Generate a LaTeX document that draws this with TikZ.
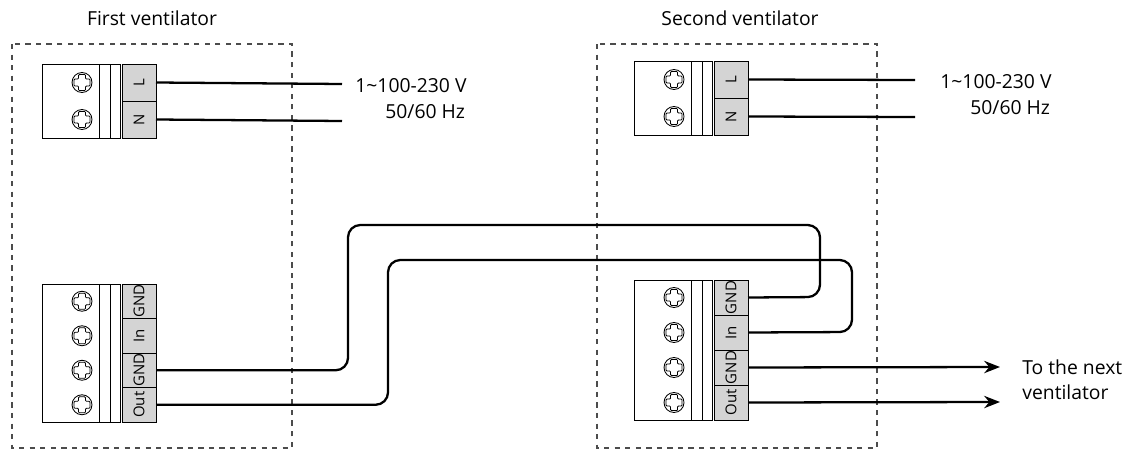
\documentclass[tikz,border=0pt]{standalone}
\usepackage{fontspec}
\setmainfont{Open Sans}
\usetikzlibrary{arrows.meta}
\definecolor{cellgrey}{gray}{0.83}

\tikzset{
  box/.style = {draw = black!70, dashed, line width = 0.6pt},
  wire/.style = {draw, line width = 1.3pt, rounded corners = 7pt},
  feed/.style = {wire, -{Stealth[length = 9pt, width = 7pt]}},
  cell/.style = {draw, fill = cellgrey, line width = 0.5pt},
  lbl/.style = {font = \fontsize{11}{14}\selectfont, inner sep = 0pt}
}

% terminal block: #1 name, #2 x, #3 y (top), #4 row height, #5 rows, #6 labels
\newcommand\tblock[6]{
  \foreach \lab [count = \k] in {#6} {
    \pgfmathsetmacro\ya{#3 + (\k - 1) * #4}
    \pgfmathsetmacro\yc{#3 + (\k - 0.5) * #4}
    \draw[cell] (#2 + 80, \ya) rectangle ++(34, #4);
    \node[lbl, rotate = 90, font = \fontsize{8.5}{10}\selectfont] at (#2 + 97, \yc) {\lab};
    % screw
    \draw[line width = 0.5pt] (#2 + 40, \yc) circle[radius = 0.2cm];
    \draw[line width = 0.5pt, rounded corners = 0.5pt] (#2 + 36.5, \yc - 8) -- ++(7, 0) -- ++(0, 4.5) -- ++(4.5, 0)
      -- ++(0, 7) -- ++(-4.5, 0) -- ++(0, 4.5) -- ++(-7, 0) -- ++(0, -4.5)
      -- ++(-4.5, 0) -- ++(0, -7) -- ++(4.5, 0) -- cycle;
    \coordinate (#1\k) at (#2 + 114, \yc);
  }
  \pgfmathsetmacro\yb{#3 + #4 * #5}
  \draw[line width = 0.5pt] (#2, #3) rectangle (#2 + 78, \yb);
  \draw[line width = 0.5pt] (#2 + 57, #3) -- (#2 + 57, \yb)
    (#2 + 68, #3) -- (#2 + 68, \yb);
}

\begin{document}
\begin{tikzpicture}[x = 0.02cm, y = -0.02cm]
\useasboundingbox (0, 0) rectangle (1130, 463);

% ventilator outlines
\draw[box] (12, 44) rectangle (292, 448);
\draw[box] (597, 44) rectangle (877, 448);
\node[lbl] (title1) at (152, 18) {First ventilator};
\node[lbl] (title2) at (740, 18) {Second ventilator};

% terminal blocks
\tblock{PA}{42}{64}{37}{2}{L, N}
\tblock{PB}{634}{61}{37}{2}{L, N}
\tblock{SA}{42}{284}{34.5}{4}{GND, In, GND, Out}
\tblock{SB}{634}{280}{35}{4}{GND, In, GND, Out}

% supply
\coordinate (ea) at (342, 84);
\coordinate (eb) at (342, 121);
\coordinate (ec) at (915, 80);
\coordinate (ed) at (915, 117);
\draw[wire] (PA1) -- (ea);
\draw[wire] (PA2) -- (eb);
\draw[wire] (PB1) -- (ec);
\draw[wire] (PB2) -- (ed);
\node[lbl, anchor = west] (mainsA) at (355, 86) {1\textasciitilde100-230 V};
\node[lbl, anchor = west] (hzA) at (385, 112) {50/60 Hz};
\node[lbl, anchor = west] (mainsB) at (940, 82) {1\textasciitilde100-230 V};
\node[lbl, anchor = west] (hzB) at (970, 108) {50/60 Hz};

% signal link
\draw[wire] (SA3) -| (348, 225) -| (820, 297) -- (SB1);
\draw[wire] (SA4) -| (388, 260) -| (852, 332) -- (SB2);

% to next ventilator
\coordinate (na) at (1000, 367);
\coordinate (nb) at (1000, 402);
\draw[feed] (SB3) -- (na);
\draw[feed] (SB4) -- (nb);
\node[lbl, anchor = west, align = left] (next) at (1022, 380) {To the next\\ventilator};
\end{tikzpicture}
\end{document}
